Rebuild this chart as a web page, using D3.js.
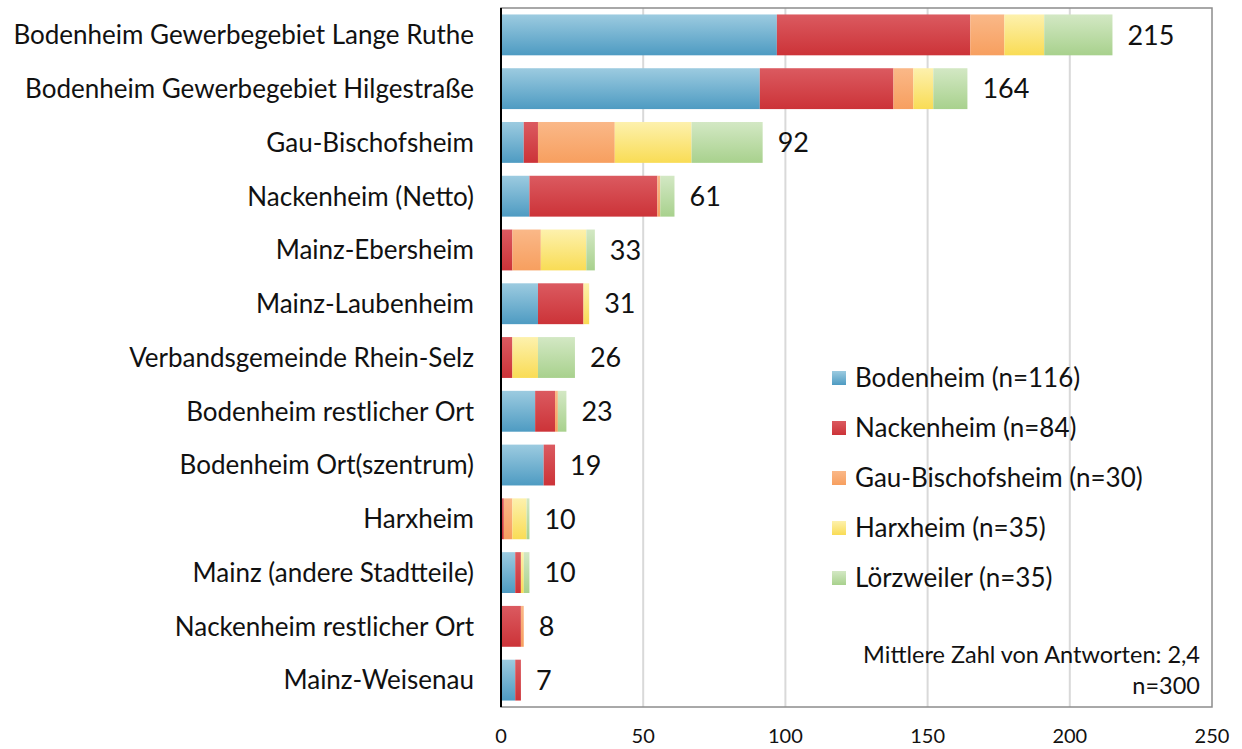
<!DOCTYPE html>
<html>
<head>
<meta charset="utf-8">
<script src="https://cdn.jsdelivr.net/npm/d3@7"></script>
<style>
  body { margin: 0; background: #fff; }
  svg { display: block; font-family: Lato, "Open Sans", sans-serif; }
</style>
</head>
<body>
<svg id="chart" width="1242" height="749"></svg>
<script>
// Data
const categories = [
  'Bodenheim Gewerbegebiet Lange Ruthe',
  'Bodenheim Gewerbegebiet Hilgestraße',
  'Gau-Bischofsheim',
  'Nackenheim (Netto)',
  'Mainz-Ebersheim',
  'Mainz-Laubenheim',
  'Verbandsgemeinde Rhein-Selz',
  'Bodenheim restlicher Ort',
  'Bodenheim Ort(szentrum)',
  'Harxheim',
  'Mainz (andere Stadtteile)',
  'Nackenheim restlicher Ort',
  'Mainz-Weisenau'
];
const series = ['Bodenheim (n=116)', 'Nackenheim (n=84)', 'Gau-Bischofsheim (n=30)', 'Harxheim (n=35)', 'Lörzweiler (n=35)'];
const bodenheim       = [97, 91, 8, 10, 0, 13, 0, 12, 15, 0, 5, 0, 5];
const nackenheim      = [68, 47, 5, 45, 4, 16, 4, 7, 4, 1, 2, 7, 2];
const gauBischofsheim = [12, 7, 27, 1, 10, 0, 0, 1, 0, 3, 0, 1, 0];
const harxheim        = [14, 7, 27, 0, 16, 2, 9, 0, 0, 5, 1, 0, 0];
const loerzweiler     = [24, 12, 25, 5, 3, 0, 13, 3, 0, 1, 2, 0, 0];
const totals = [215, 164, 92, 61, 33, 31, 26, 23, 19, 10, 10, 8, 7];
const xTicks = [0, 50, 100, 150, 200, 250];
const note = ['Mittlere Zahl von Antworten: 2,4', 'n=300'];

const values = [bodenheim, nackenheim, gauBischofsheim, harxheim, loerzweiler];
// colours: [top, bottom] of each bar gradient
const colors = [
  ['#9ccbe0', '#4e9bc2'],
  ['#db5a60', '#cc3338'],
  ['#fab888', '#f79f5f'],
  ['#fdf1ad', '#f9dc55'],
  ['#d3e8c4', '#a8d18d']
];

const svg = d3.select('#chart');
const margin = { top: 8, right: 30, bottom: 42, left: 501 };
const width = 1242, height = 749;

const x = d3.scaleLinear().domain([0, 250]).range([margin.left, width - margin.right]);
const y = d3.scaleBand().domain(categories).range([margin.top, height - margin.bottom]).paddingInner(0.24).paddingOuter(0.12);

// Gradients
const defs = svg.append('defs');
colors.forEach((c, i) => {
  const g = defs.append('linearGradient').attr('id', 'g' + i)
    .attr('x1', 0).attr('y1', 0).attr('x2', 0).attr('y2', 1);
  g.append('stop').attr('offset', '0%').attr('stop-color', c[0]);
  g.append('stop').attr('offset', '100%').attr('stop-color', c[1]);
});

// Gridlines
svg.append('g')
  .selectAll('line')
  .data(xTicks.slice(1, -1))
  .join('line')
  .attr('x1', d => x(d)).attr('x2', d => x(d))
  .attr('y1', margin.top).attr('y2', height - margin.bottom)
  .style('stroke', '#d9d9d9')
  .style('stroke-width', 2);

// Stacked bars
const rows = categories.map((c, i) => {
  const r = { cat: c };
  series.forEach((s, j) => r[s] = values[j][i]);
  return r;
});
const stacked = d3.stack().keys(series)(rows);

svg.append('g')
  .selectAll('g')
  .data(stacked)
  .join('g')
  .attr('fill', (d, i) => `url(#g${i})`)
  .selectAll('rect')
  .data(d => d.filter(p => p[1] > p[0]))
  .join('rect')
  .attr('x', d => x(d[0]))
  .attr('y', d => y(d.data.cat))
  .attr('width', d => x(d[1]) - x(d[0]))
  .attr('height', y.bandwidth());

// Plot frame
svg.append('rect')
  .attr('x', margin.left).attr('y', margin.top)
  .attr('width', x(250) - margin.left).attr('height', height - margin.bottom - margin.top)
  .style('fill', 'none')
  .style('stroke', '#8c8c8c')
  .style('stroke-width', 1.5);
svg.append('line')
  .attr('x1', margin.left).attr('x2', margin.left)
  .attr('y1', margin.top).attr('y2', height - margin.bottom)
  .style('stroke', '#000')
  .style('stroke-width', 2);

// Total labels
svg.append('g')
  .selectAll('text')
  .data(categories)
  .join('text')
  .attr('x', (d, i) => x(totals[i]) + 15)
  .attr('y', d => y(d) + y.bandwidth() / 2)
  .attr('dy', '0.36em')
  .style('font-size', '27px')
  .style('fill', '#111')
  .text((d, i) => totals[i]);

// Category labels
svg.append('g')
  .selectAll('text')
  .data(categories)
  .join('text')
  .attr('x', margin.left - 27)
  .attr('y', d => y(d) + y.bandwidth() / 2)
  .attr('dy', '0.36em')
  .style('text-anchor', 'end')
  .style('font-size', '26px')
  .style('fill', '#111')
  .text(d => d);

// X axis labels
svg.append('g')
  .selectAll('text')
  .data(xTicks)
  .join('text')
  .attr('x', d => x(d))
  .attr('y', height - 6)
  .style('text-anchor', 'middle')
  .style('font-size', '20px')
  .style('fill', '#111')
  .text(d => d);

// Legend
const legend = svg.append('g')
  .selectAll('g')
  .data(series)
  .join('g')
  .attr('transform', (d, i) => `translate(832,${378 + i * 50})`);
legend.append('rect')
  .attr('x', 0).attr('y', -7)
  .attr('width', 14).attr('height', 14)
  .attr('fill', (d, i) => `url(#g${i})`);
legend.append('text')
  .attr('x', 23)
  .attr('dy', '0.36em')
  .style('font-size', '26px')
  .style('fill', '#111')
  .text(d => d);

// Note
svg.append('g')
  .selectAll('text')
  .data(note)
  .join('text')
  .attr('x', 1200)
  .attr('y', (d, i) => 655 + i * 31)
  .attr('dy', '0.36em')
  .style('text-anchor', 'end')
  .style('font-size', '23.5px')
  .style('fill', '#111')
  .text(d => d);
</script>
</body>
</html>
